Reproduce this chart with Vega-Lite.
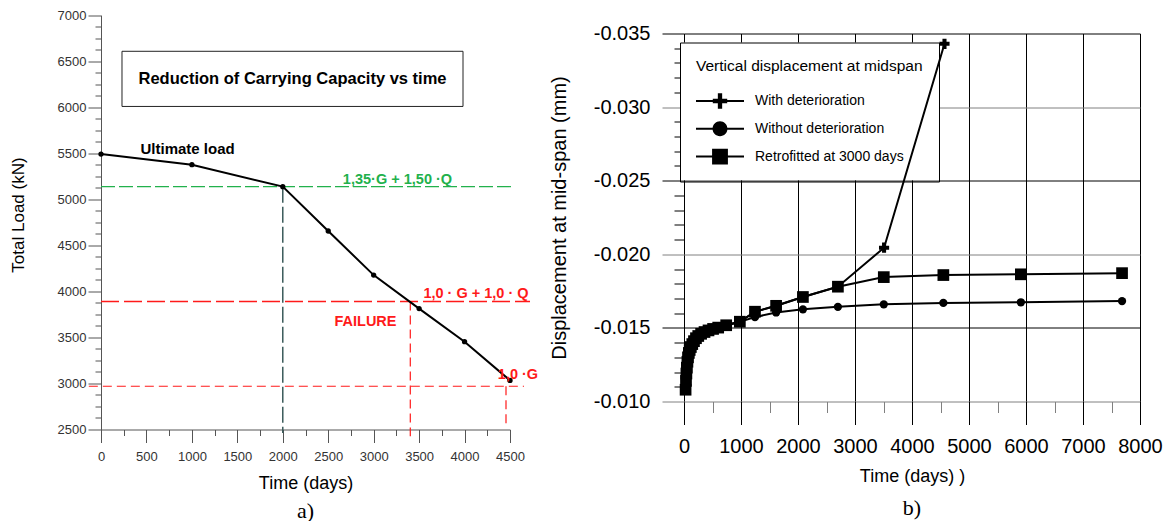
{
  "$schema": "https://vega.github.io/schema/vega-lite/v6.json",
  "background": "white",
  "padding": {"left": 9, "top": 8.5, "right": 0, "bottom": 0},
  "autosize": {"type": "pad"},
  "spacing": 10,
  "resolve": {"legend": {"shape": "independent"}, "scale": {"shape": "independent", "size": "independent"}},
  "config": {
    "view": {"stroke": null},
    "font": "Liberation Sans",
    "axis": {"labelFont": "Liberation Sans", "titleFont": "Liberation Sans", "titleFontWeight": "normal", "titleColor": "black", "tickCount": 100}
  },
  "hconcat": [
    {
      "width": 409,
      "height": 396,
      "title": {"text": "a)", "orient": "bottom", "font": "Liberation Serif", "fontSize": 22, "fontWeight": "normal", "color": "black", "offset": 8},
      "layer": [
        {
          "data": {"values": [{"t": 231, "t2": 3983, "v": 6608, "v2": 6009}]},
          "mark": {"type": "rect", "fill": "white", "stroke": "#222222", "strokeWidth": 1},
          "encoding": {
            "x": {"field": "t", "type": "quantitative"},
            "x2": {"field": "t2"},
            "y": {"field": "v", "type": "quantitative"},
            "y2": {"field": "v2"}
          }
        },
        {
          "data": {"values": [{"t": 2107, "v": 6307, "label": "Reduction of Carrying Capacity vs time"}]},
          "mark": {"type": "text", "fontSize": 16.5, "fontWeight": "bold", "color": "black"},
          "encoding": {
            "x": {"field": "t", "type": "quantitative"},
            "y": {"field": "v", "type": "quantitative"},
            "text": {"field": "label"}
          }
        },
        {
          "data": {"values": [{"t": 0, "t2": 4544, "v": 5138}]},
          "mark": {"type": "rule", "color": "#22b14c", "strokeWidth": 1.2, "strokeDash": [14, 4]},
          "encoding": {
            "x": {"field": "t", "type": "quantitative"},
            "x2": {"field": "t2"},
            "y": {"field": "v", "type": "quantitative"}
          }
        },
        {
          "data": {"values": [{"t": 0, "t2": 4720, "v": 3890}]},
          "mark": {"type": "rule", "color": "#ff1a1a", "strokeWidth": 1.5, "strokeDash": [18, 5]},
          "encoding": {
            "x": {"field": "t", "type": "quantitative"},
            "x2": {"field": "t2"},
            "y": {"field": "v", "type": "quantitative"}
          }
        },
        {
          "data": {"values": [{"t": -134, "t2": 4654, "v": 2970}]},
          "mark": {"type": "rule", "color": "#ff1a1a", "strokeWidth": 1.2, "strokeDash": [9, 5]},
          "encoding": {
            "x": {"field": "t", "type": "quantitative"},
            "x2": {"field": "t2"},
            "y": {"field": "v", "type": "quantitative"}
          }
        },
        {
          "data": {"values": [{"t": 2000, "v": 5138, "v2": 2463}]},
          "mark": {"type": "rule", "color": "#3b5b5b", "strokeWidth": 1.5, "strokeDash": [16, 4]},
          "encoding": {
            "x": {"field": "t", "type": "quantitative"},
            "y": {"field": "v", "type": "quantitative"},
            "y2": {"field": "v2"}
          }
        },
        {
          "data": {"values": [{"t": 3403, "v": 3890, "v2": 2427}, {"t": 4456, "v": 2970, "v2": 2536}]},
          "mark": {"type": "rule", "color": "#ff1a1a", "strokeWidth": 1.2, "strokeDash": [9, 5]},
          "encoding": {
            "x": {"field": "t", "type": "quantitative"},
            "y": {"field": "v", "type": "quantitative"},
            "y2": {"field": "v2"}
          }
        },
        {
          "data": {"values": [
            {"t": 0, "v": 5492}, {"t": 1000, "v": 5376}, {"t": 2000, "v": 5138}, {"t": 2500, "v": 4656},
            {"t": 3000, "v": 4177}, {"t": 3500, "v": 3813}, {"t": 4000, "v": 3454}, {"t": 4500, "v": 3033}
          ]},
          "mark": {"type": "line", "color": "black", "strokeWidth": 2, "point": {"filled": true, "size": 28, "color": "black", "opacity": 1}},
          "encoding": {
            "x": {
              "field": "t", "type": "quantitative",
              "scale": {"domain": [0, 4500], "nice": false, "zero": false},
              "axis": {
                "title": "Time (days)",
                "values": [0, 250, 500, 750, 1000, 1250, 1500, 1750, 2000, 2250, 2500, 2750, 3000, 3250, 3500, 3750, 4000, 4250, 4500],
                "tickCount": 100,
                "format": "d",
                "labelExpr": "datum.value % 500 === 0 ? datum.label : ''",
                "grid": false,
                "domainColor": "#555555",
                "tickColor": "#555555",
                "tickSize": {"condition": {"test": "datum.value % 500 === 0", "value": 13}, "value": 6},
                "labelFontSize": 13,
                "labelColor": "#333333",
                "labelPadding": 8,
                "labelFlush": false,
                "labelOverlap": false,
                "titleFontSize": 18,
                "titlePadding": 11
              }
            },
            "y": {
              "field": "v", "type": "quantitative",
              "scale": {"domain": [2500, 7000], "range": [396, -18.3], "nice": false, "zero": false},
              "axis": {
                "title": "Total Load (kN)",
                "titleY": 181,
                "values": [2500, 2625, 2750, 2875, 3000, 3125, 3250, 3375, 3500, 3625, 3750, 3875, 4000, 4125, 4250, 4375, 4500, 4625, 4750, 4875, 5000, 5125, 5250, 5375, 5500, 5625, 5750, 5875, 6000, 6125, 6250, 6375, 6500, 6625, 6750, 6875, 7000],
                "tickCount": 100,
                "format": "d",
                "labelExpr": "datum.value % 500 === 0 ? datum.label : ''",
                "grid": false,
                "domainColor": "#555555",
                "tickColor": "#555555",
                "tickSize": {"condition": {"test": "datum.value % 500 === 0", "value": 13}, "value": 6},
                "labelFontSize": 13,
                "labelColor": "#333333",
                "labelPadding": 2,
                "labelFlush": false,
                "labelOverlap": false,
                "titleFontSize": 17,
                "titlePadding": 30
              }
            }
          }
        },
        {
          "data": {"values": [{"t": 953, "v": 5544, "label": "Ultimate load"}]},
          "mark": {"type": "text", "fontSize": 15, "fontWeight": "bold", "color": "black"},
          "encoding": {
            "x": {"field": "t", "type": "quantitative"},
            "y": {"field": "v", "type": "quantitative"},
            "text": {"field": "label"}
          }
        },
        {
          "data": {"values": [{"t": 3262, "v": 5211, "label": "1,35·G + 1,50 ·Q"}]},
          "mark": {"type": "text", "fontSize": 14.5, "fontWeight": "bold", "color": "#22b14c"},
          "encoding": {
            "x": {"field": "t", "type": "quantitative"},
            "y": {"field": "v", "type": "quantitative"},
            "text": {"field": "label"}
          }
        },
        {
          "data": {"values": [
            {"t": 4126, "v": 3976, "label": "1,0 · G + 1,0 · Q"},
            {"t": 2910, "v": 3665, "label": "FAILURE"},
            {"t": 4588, "v": 3088, "label": "1,0 ·G"}
          ]},
          "mark": {"type": "text", "fontSize": 14.5, "fontWeight": "bold", "color": "#ff1a1a"},
          "encoding": {
            "x": {"field": "t", "type": "quantitative"},
            "y": {"field": "v", "type": "quantitative"},
            "text": {"field": "label"}
          }
        }
      ]
    },
    {
      "width": 456,
      "height": 368,
      "title": {"text": "b)", "orient": "bottom", "font": "Liberation Serif", "fontSize": 22, "fontWeight": "normal", "color": "black", "offset": 12},
      "resolve": {"scale": {"shape": "independent"}, "legend": {"shape": "independent"}},
      "data": {"values": [
        {"series": "With deterioration", "t": 28, "d": -0.0108},
        {"series": "With deterioration", "t": 35, "d": -0.0114},
        {"series": "With deterioration", "t": 42, "d": -0.0119},
        {"series": "With deterioration", "t": 50, "d": -0.0123},
        {"series": "With deterioration", "t": 60, "d": -0.0127},
        {"series": "With deterioration", "t": 70, "d": -0.0130},
        {"series": "With deterioration", "t": 85, "d": -0.0133},
        {"series": "With deterioration", "t": 100, "d": -0.0135},
        {"series": "With deterioration", "t": 120, "d": -0.0137},
        {"series": "With deterioration", "t": 145, "d": -0.0139},
        {"series": "With deterioration", "t": 175, "d": -0.0141},
        {"series": "With deterioration", "t": 210, "d": -0.0143},
        {"series": "With deterioration", "t": 250, "d": -0.01445},
        {"series": "With deterioration", "t": 300, "d": -0.0146},
        {"series": "With deterioration", "t": 360, "d": -0.01472},
        {"series": "With deterioration", "t": 430, "d": -0.01483},
        {"series": "With deterioration", "t": 510, "d": -0.01493},
        {"series": "With deterioration", "t": 600, "d": -0.01502},
        {"series": "With deterioration", "t": 740, "d": -0.01518},
        {"series": "With deterioration", "t": 980, "d": -0.01542},
        {"series": "With deterioration", "t": 1245, "d": -0.0161},
        {"series": "With deterioration", "t": 1616, "d": -0.0165},
        {"series": "With deterioration", "t": 2086, "d": -0.0171},
        {"series": "With deterioration", "t": 2700, "d": -0.0178},
        {"series": "With deterioration", "t": 3510, "d": -0.02045},
        {"series": "With deterioration", "t": 4570, "d": -0.0343},
        {"series": "Without deterioration", "t": 28, "d": -0.0108},
        {"series": "Without deterioration", "t": 35, "d": -0.0114},
        {"series": "Without deterioration", "t": 42, "d": -0.0119},
        {"series": "Without deterioration", "t": 50, "d": -0.0123},
        {"series": "Without deterioration", "t": 60, "d": -0.0127},
        {"series": "Without deterioration", "t": 70, "d": -0.0130},
        {"series": "Without deterioration", "t": 85, "d": -0.0133},
        {"series": "Without deterioration", "t": 100, "d": -0.0135},
        {"series": "Without deterioration", "t": 120, "d": -0.0137},
        {"series": "Without deterioration", "t": 145, "d": -0.0139},
        {"series": "Without deterioration", "t": 175, "d": -0.0141},
        {"series": "Without deterioration", "t": 210, "d": -0.0143},
        {"series": "Without deterioration", "t": 250, "d": -0.01445},
        {"series": "Without deterioration", "t": 300, "d": -0.0146},
        {"series": "Without deterioration", "t": 360, "d": -0.01472},
        {"series": "Without deterioration", "t": 430, "d": -0.01483},
        {"series": "Without deterioration", "t": 510, "d": -0.01493},
        {"series": "Without deterioration", "t": 600, "d": -0.01502},
        {"series": "Without deterioration", "t": 740, "d": -0.01518},
        {"series": "Without deterioration", "t": 980, "d": -0.01542},
        {"series": "Without deterioration", "t": 1245, "d": -0.01573},
        {"series": "Without deterioration", "t": 1616, "d": -0.01605},
        {"series": "Without deterioration", "t": 2086, "d": -0.01626},
        {"series": "Without deterioration", "t": 2700, "d": -0.01643},
        {"series": "Without deterioration", "t": 3505, "d": -0.0166},
        {"series": "Without deterioration", "t": 4550, "d": -0.0167},
        {"series": "Without deterioration", "t": 5910, "d": -0.01674},
        {"series": "Without deterioration", "t": 7685, "d": -0.01682},
        {"series": "Retrofitted at 3000 days", "t": 28, "d": -0.0108},
        {"series": "Retrofitted at 3000 days", "t": 35, "d": -0.0114},
        {"series": "Retrofitted at 3000 days", "t": 42, "d": -0.0119},
        {"series": "Retrofitted at 3000 days", "t": 50, "d": -0.0123},
        {"series": "Retrofitted at 3000 days", "t": 60, "d": -0.0127},
        {"series": "Retrofitted at 3000 days", "t": 70, "d": -0.0130},
        {"series": "Retrofitted at 3000 days", "t": 85, "d": -0.0133},
        {"series": "Retrofitted at 3000 days", "t": 100, "d": -0.0135},
        {"series": "Retrofitted at 3000 days", "t": 120, "d": -0.0137},
        {"series": "Retrofitted at 3000 days", "t": 145, "d": -0.0139},
        {"series": "Retrofitted at 3000 days", "t": 175, "d": -0.0141},
        {"series": "Retrofitted at 3000 days", "t": 210, "d": -0.0143},
        {"series": "Retrofitted at 3000 days", "t": 250, "d": -0.01445},
        {"series": "Retrofitted at 3000 days", "t": 300, "d": -0.0146},
        {"series": "Retrofitted at 3000 days", "t": 360, "d": -0.01472},
        {"series": "Retrofitted at 3000 days", "t": 430, "d": -0.01483},
        {"series": "Retrofitted at 3000 days", "t": 510, "d": -0.01493},
        {"series": "Retrofitted at 3000 days", "t": 600, "d": -0.01502},
        {"series": "Retrofitted at 3000 days", "t": 740, "d": -0.01518},
        {"series": "Retrofitted at 3000 days", "t": 980, "d": -0.01542},
        {"series": "Retrofitted at 3000 days", "t": 1245, "d": -0.0161},
        {"series": "Retrofitted at 3000 days", "t": 1616, "d": -0.0165},
        {"series": "Retrofitted at 3000 days", "t": 2086, "d": -0.0171},
        {"series": "Retrofitted at 3000 days", "t": 2700, "d": -0.0178},
        {"series": "Retrofitted at 3000 days", "t": 3505, "d": -0.01845},
        {"series": "Retrofitted at 3000 days", "t": 4550, "d": -0.01859},
        {"series": "Retrofitted at 3000 days", "t": 5910, "d": -0.01864},
        {"series": "Retrofitted at 3000 days", "t": 7685, "d": -0.01872}
      ]},
      "layer": [
        {
          "data": {"values": [{"t": -70, "t2": 4491, "d": -0.03439, "d2": -0.02503}]},
          "mark": {"type": "rect", "fill": "white", "strokeWidth": 0},
          "encoding": {
            "x": {"field": "t", "type": "quantitative"},
            "x2": {"field": "t2"},
            "y": {"field": "d", "type": "quantitative"},
            "y2": {"field": "d2"}
          }
        },
        {
          "transform": [{"filter": "false"}],
          "mark": {"type": "point", "filled": true, "color": "black", "opacity": 1},
          "encoding": {
            "x": {"field": "t", "type": "quantitative"},
            "y": {"field": "d", "type": "quantitative"},
            "shape": {
              "field": "series", "type": "nominal",
              "scale": {
                "domain": ["With deterioration", "Without deterioration", "Retrofitted at 3000 days"],
                "range": [
                  "M-1,-0.042H1V0.042H-1ZM-0.3,-0.09H-0.09V-0.32H0.09V-0.09H0.3V0.09H0.09V0.32H-0.09V0.09H-0.3Z",
                  "M-1,-0.042H1V0.042H-1ZM-0.31,0A0.31,0.31,0,1,1,0.31,0A0.31,0.31,0,1,1,-0.31,0Z",
                  "M-1,-0.042H1V0.042H-1ZM-0.33,-0.33H0.33V0.33H-0.33Z"
                ]
              },
              "legend": {
                "title": "Vertical displacement at midspan",
                "orient": "none",
                "legendX": -4,
                "legendY": 9,
                "direction": "vertical",
                "padding": 16,
                "fillColor": null,
                "strokeColor": "black",
                "titleFont": "Liberation Sans",
                "titleFontSize": 15.5,
                "titleFontWeight": "normal",
                "titleColor": "black",
                "titlePadding": 18.5,
                "titleLimit": 500,
                "labelFont": "Liberation Sans",
                "labelFontSize": 14,
                "labelColor": "black",
                "labelOffset": 11,
                "labelLimit": 400,
                "symbolSize": 2304,
                "symbolFillColor": "black",
                "symbolStrokeWidth": 0,
                "symbolOpacity": 1,
                "clipHeight": 17,
                "rowPadding": 10.8
              }
            }
          }
        },
        {
          "mark": {"type": "line", "color": "black", "strokeWidth": 2},
          "encoding": {
            "x": {
              "field": "t", "type": "quantitative",
              "scale": {"domain": [0, 8000], "nice": false, "zero": false},
              "axis": {
                "title": "Time (days)   )",
                "values": [0, 500, 1000, 1500, 2000, 2500, 3000, 3500, 4000, 4500, 5000, 5500, 6000, 6500, 7000, 7500, 8000],
                "tickCount": 100,
                "format": "d",
                "labelExpr": "datum.value % 1000 === 0 ? datum.label : ''",
                "domain": false,
                "grid": true,
                "gridColor": "black",
                "gridWidth": 1,
                "gridOpacity": {"condition": {"test": "datum.value % 1000 === 0", "value": 1}, "value": 0},
                "tickSize": {"condition": {"test": "datum.value % 1000 === 0", "value": 23}, "value": 11},
                "tickColor": {"condition": {"test": "datum.value % 1000 === 0", "value": "black"}, "value": "#808080"},
                "tickWidth": 1,
                "labelFontSize": 20,
                "labelColor": "black",
                "labelPadding": 12,
                "labelFlush": false,
                "labelOverlap": false,
                "titleFontSize": 18,
                "titlePadding": 11
              }
            },
            "y": {
              "field": "d", "type": "quantitative",
              "scale": {"domain": [-0.035, -0.010], "nice": false, "zero": false, "reverse": true},
              "axis": {
                "title": "Displacement at mid-span (mm)",
                "values": [-0.035, -0.034, -0.033, -0.032, -0.031, -0.030, -0.029, -0.028, -0.027, -0.026, -0.025, -0.024, -0.023, -0.022, -0.021, -0.020, -0.019, -0.018, -0.017, -0.016, -0.015, -0.014, -0.013, -0.012, -0.011, -0.010],
                "tickCount": 100,
                "labelExpr": "round(datum.value * 1000) % 5 === 0 ? '-' + format(abs(datum.value), '.3f') : ''",
                "domain": false,
                "grid": true,
                "gridWidth": 1,
                "gridOpacity": {"condition": {"test": "round(datum.value * 1000) % 5 === 0", "value": 1}, "value": 0},
                "gridColor": {"condition": {"test": "round(datum.value * 1000) % 10 === 0", "value": "#808080"}, "value": "black"},
                "tickSize": {"condition": {"test": "round(datum.value * 1000) % 5 === 0", "value": 22}, "value": 10},
                "tickColor": {"condition": {"test": "round(datum.value * 1000) % 10 === 0", "value": "#808080"}, "value": "black"},
                "tickWidth": 1,
                "labelFontSize": 20,
                "labelColor": "black",
                "labelPadding": 12,
                "labelFlush": false,
                "labelOverlap": false,
                "titleFontSize": 20,
                "titlePadding": 24
              }
            },
            "detail": {"field": "series"}
          }
        },
        {
          "mark": {"type": "point", "filled": true, "color": "black", "opacity": 1},
          "encoding": {
            "x": {"field": "t", "type": "quantitative"},
            "y": {"field": "d", "type": "quantitative"},
            "shape": {
              "field": "series", "type": "nominal",
              "scale": {"domain": ["With deterioration", "Without deterioration", "Retrofitted at 3000 days"], "range": ["cross", "circle", "square"]},
              "legend": null
            },
            "size": {
              "field": "series", "type": "nominal",
              "scale": {"domain": ["Without deterioration", "With deterioration", "Retrofitted at 3000 days"], "range": [69, 137, 114]},
              "legend": null
            }
          }
        }
      ]
    }
  ]
}
